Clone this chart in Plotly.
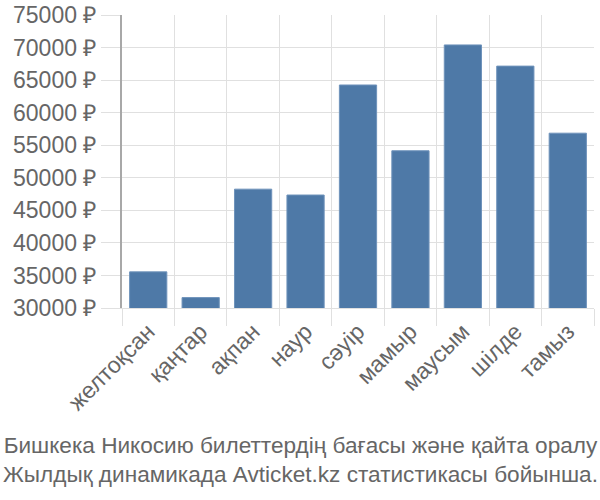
import plotly.graph_objects as go

categories = ["желтоқсан", "қаңтар", "ақпан", "наур", "сәуір", "мамыр", "маусым", "шілде", "тамыз"]
prices = [35550, 31600, 48250, 47350, 64250, 54150, 70400, 67150, 56850]
y_ticks = [30000, 35000, 40000, 45000, 50000, 55000, 60000, 65000, 70000, 75000]
y_tick_labels = [f"{v} ₽" for v in y_ticks]
title_lines = ["Бишкека Никосию билеттердің бағасы және қайта оралу",
               "Жылдық динамикада Avticket.kz статистикасы бойынша."]

FONT = "Liberation Sans"
TXT = "#666666"
GRID = "#e0e0e0"
FS = 23
TITLE_FS = 22.6

fig = go.Figure(go.Bar(
    x=categories, y=prices,
    marker=dict(color="#4e79a7", line=dict(color="#6f93bb", width=1)),
))

W, H = 600, 500
ml, mr, mt, mb = 122, 6, 15, 192
fig.update_layout(
    width=W, height=H,
    margin=dict(l=ml, r=mr, t=mt, b=mb, autoexpand=False),
    paper_bgcolor="white", plot_bgcolor="white",
    bargap=0.29,
    showlegend=False,
    font=dict(family=FONT, size=FS, color=TXT),
)
fig.update_xaxes(
    type="category", tickson="boundaries",
    showgrid=True, gridcolor=GRID, gridwidth=1,
    ticks="outside", ticklen=17, tickcolor=GRID, tickwidth=1,
    tickangle=-45, tickfont=dict(size=FS, color=TXT, family=FONT),
    showline=True, linecolor=GRID, linewidth=1,
    zeroline=False,
)
fig.update_yaxes(
    range=[30000, 75000], tickvals=y_ticks, ticktext=y_tick_labels,
    showgrid=True, gridcolor=GRID, gridwidth=1,
    ticks="outside", ticklen=19, tickcolor=GRID, tickwidth=1,
    tickfont=dict(size=FS, color=TXT, family=FONT),
    showline=True, linecolor="#a8a8a8", linewidth=2,
    zeroline=False,
)
fig.add_annotation(
    text="<br>".join(title_lines),
    xref="paper", yref="paper", x=(W / 2 - ml) / (W - ml - mr),
    y=-(460 - (H - mb)) / (H - mt - mb), xanchor="center", yanchor="middle",
    showarrow=False, align="center",
    font=dict(family=FONT, size=TITLE_FS, color=TXT),
)
fig.write_html("out.html")
